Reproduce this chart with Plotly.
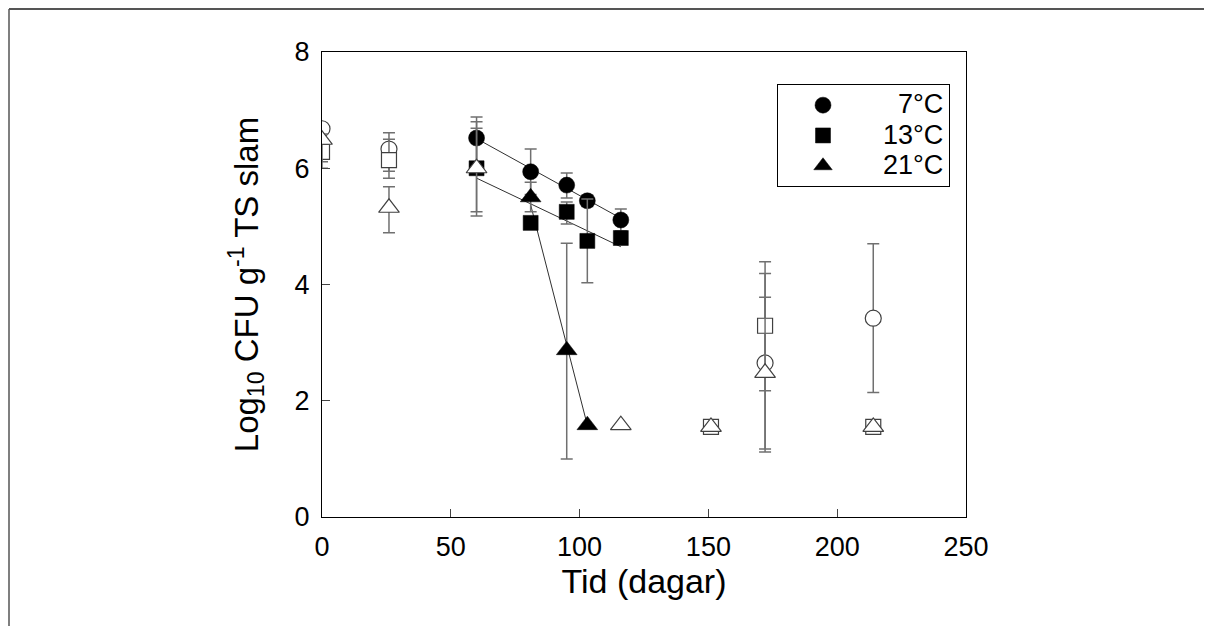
import plotly.graph_objects as go

# ---------------- data ----------------
# 7°C
c7_open_days = [0, 26, 172, 214]
c7_open_vals = [6.68, 6.33, 2.65, 3.42]
c7_open_up = [0.08, 0.28, 1.54, 1.28]
c7_open_dn = [0.08, 0.38, 1.53, 1.28]
c7_fill_days = [60, 81, 95, 103, 116]
c7_fill_vals = [6.52, 5.94, 5.71, 5.44, 5.11]
c7_fill_up = [0.36, 0.39, 0.21, 0.10, 0.19]
c7_fill_dn = [0.45, 0.39, 0.22, 0.10, 0.19]
c7_fit_days = [60, 116]
c7_fit_vals = [6.51, 5.14]

# 13°C
c13_open_days = [0, 26, 151, 172, 214]
c13_open_vals = [6.28, 6.14, 1.55, 3.29, 1.55]
c13_open_up = [0.17, 0.36, 0.0, 1.10, 0.0]
c13_open_dn = [0.17, 0.31, 0.0, 1.12, 0.0]
c13_fill_days = [60, 81, 95, 103, 116]
c13_fill_vals = [6.00, 5.06, 5.25, 4.75, 4.80]
c13_fill_up = [0.80, 0.10, 0.17, 0.72, 0.10]
c13_fill_dn = [0.82, 0.10, 0.21, 0.72, 0.10]
c13_fit_days = [60, 116]
c13_fit_vals = [5.83, 4.65]

# 21°C
c21_open_days = [0, 26, 60, 116, 151, 172, 214]
c21_open_vals = [6.49, 5.32, 6.00, 1.58, 1.55, 2.48, 1.55]
c21_open_up = [0.10, 0.36, 0.69, 0.0, 0.0, 1.30, 0.0]
c21_open_dn = [0.49, 0.43, 0.75, 0.0, 0.0, 1.31, 0.0]
c21_fill_days = [81, 95, 103]
c21_fill_vals = [5.50, 2.87, 1.58]
c21_fill_up = [0.26, 1.84, 0.0]
c21_fill_dn = [0.25, 1.87, 0.0]
c21_fit_days = [81, 103]
c21_fit_vals = [5.37, 1.58]

legend_names = ["7°C", "13°C", "21°C"]
x_ticks = [0, 50, 100, 150, 200, 250]
y_ticks = [0, 2, 4, 6, 8]
x_title = "Tid (dagar)"
y_title = "Log<sub>10</sub> CFU g<sup>-1</sup> TS slam"

FONT = "Liberation Sans, Arial, sans-serif"
ERR_COLOR = "#707070"
LINE_COLOR = "#303030"


def legend_label(txt):
    pad = "\u00a0\u00a0" + ("\u2007" if len(txt) < 4 else "")
    return f'<span style="font-size:27px">{pad}{txt}</span>'


series = [
    (legend_names[0], "circle", 16, c7_open_days, c7_open_vals, c7_open_up, c7_open_dn,
     c7_fill_days, c7_fill_vals, c7_fill_up, c7_fill_dn, c7_fit_days, c7_fit_vals),
    (legend_names[1], "square", 15, c13_open_days, c13_open_vals, c13_open_up, c13_open_dn,
     c13_fill_days, c13_fill_vals, c13_fill_up, c13_fill_dn, c13_fit_days, c13_fit_vals),
    (legend_names[2], "triangle-up", 18, c21_open_days, c21_open_vals, c21_open_up, c21_open_dn,
     c21_fill_days, c21_fill_vals, c21_fill_up, c21_fill_dn, c21_fit_days, c21_fit_vals),
]

fig = go.Figure()

# fitted lines first (below markers)
for s in series:
    fig.add_trace(go.Scatter(x=s[11], y=s[12], mode="lines",
                             line=dict(color=LINE_COLOR, width=1),
                             showlegend=False, hoverinfo="skip"))

for (name, sym, size, od, ov, ou, odn, fd, fv, fu, fdn, _, _) in series:
    fig.add_trace(go.Scatter(
        x=od, y=ov, mode="markers", showlegend=False,
        marker=dict(symbol=sym, size=size, color="white",
                    line=dict(color="#404040", width=1.2)),
        error_y=dict(type="data", symmetric=False, array=ou, arrayminus=odn,
                     color=ERR_COLOR, thickness=1.5, width=6),
    ))
    fig.add_trace(go.Scatter(
        x=fd, y=fv, mode="markers", name=legend_label(name),
        marker=dict(symbol=sym, size=size, color="black",
                    line=dict(color="black", width=0.5)),
        error_y=dict(type="data", symmetric=False, array=fu, arrayminus=fdn,
                     color=ERR_COLOR, thickness=1.5, width=6),
    ))

# page has an 8px body margin: work in page pixels, then shift
OFF = 8
W, H = 1212 - OFF, 626 - OFF
L, T = 322 - OFF, 52 - OFF
Rp, Bp = 966 - OFF, 517 - OFF
R, B = W - Rp, H - Bp
pw, ph = W - L - R, H - T - B


def px_x(p):
    return (p - OFF - L) / pw


def px_y(p):
    return (H - B - (p - OFF)) / ph


fig.update_layout(
    width=W, height=H,
    margin=dict(l=L, r=R, t=T, b=B, autoexpand=False),
    paper_bgcolor="white", plot_bgcolor="white",
    font=dict(family=FONT, color="black", size=27),
    showlegend=True,
    legend=dict(x=px_x(777), y=px_y(84), xanchor="left", yanchor="top",
                bordercolor="black", borderwidth=1, bgcolor="white",
                font=dict(size=21, family=FONT), itemwidth=80,
                tracegroupgap=0),
    xaxis=dict(range=[0, 250], tickvals=x_ticks, ticks="inside", ticklen=8,
               showline=True, linecolor="black", linewidth=1, mirror=True,
               showgrid=False, zeroline=False, ticklabelstandoff=6,
               tickfont=dict(size=27, family=FONT),
               title=dict(text=x_title, font=dict(size=34, family=FONT), standoff=0)),
    yaxis=dict(range=[0, 8], tickvals=y_ticks, ticks="inside", ticklen=8,
               showline=True, linecolor="black", linewidth=1, mirror=True,
               showgrid=False, zeroline=False, ticklabelstandoff=6,
               tickfont=dict(size=27, family=FONT),
               title=dict(text=y_title, font=dict(size=33, family=FONT), standoff=26)),
    shapes=[
        dict(type="line", xref="paper", yref="paper",
             x0=px_x(OFF + 1), x1=px_x(1212 + OFF), y0=px_y(9), y1=px_y(9),
             line=dict(color="#555555", width=2)),
        dict(type="line", xref="paper", yref="paper",
             x0=px_x(OFF + 1), x1=px_x(OFF + 1), y0=px_y(9), y1=px_y(626 + OFF),
             line=dict(color="#555555", width=1.5)),
    ],
)

fig.write_html("out.html")
